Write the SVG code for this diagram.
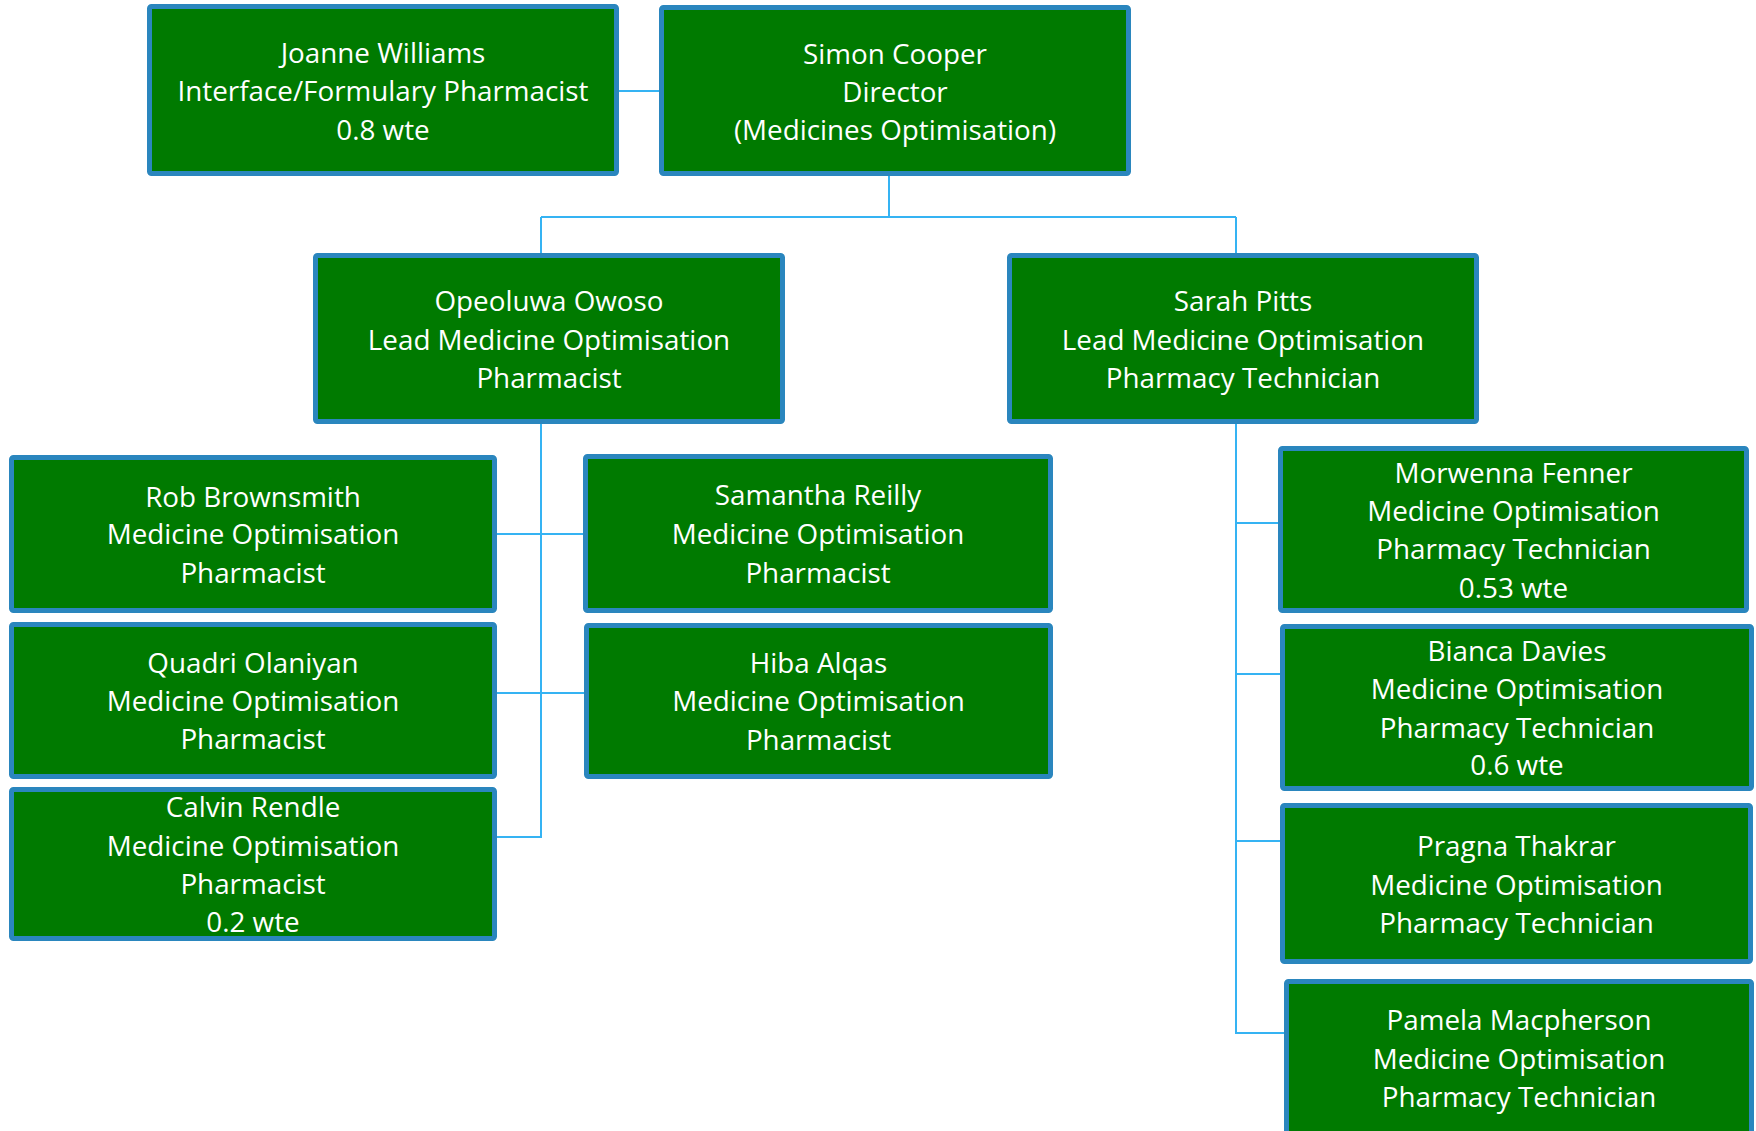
<svg xmlns="http://www.w3.org/2000/svg" width="1756" height="1131" viewBox="0 0 1756 1131">
<style>
.box{fill:#007A00;stroke:#2A86BE;stroke-width:5}
.t{font-family:"Open Sans","Liberation Sans",sans-serif;font-size:27.8px;fill:#FFFFFF;text-anchor:middle}
.c{fill:none;stroke:#35B3F3;stroke-width:2}
</style>
<rect width="1756" height="1131" fill="#FFFFFF"/>
<g id="connectors">
<path class="c" d="M619 91H659"/>
<path class="c" d="M889 176V217M541 217H1236M541 217V253M1236 217V253"/>
<path class="c" d="M541 424V837H497M497 534H583M497 693H584"/>
<path class="c" d="M1236 424V1033H1284M1236 523H1278M1236 674H1280M1236 841H1280"/>
</g>
<g id="joanne"><rect class="box" x="149.5" y="6.5" width="467" height="167" rx="2"/>
<text class="t" x="383" y="63">Joanne Williams</text><text class="t" x="383" y="101">Interface/Formulary Pharmacist</text><text class="t" x="383" y="140">0.8 wte</text></g>
<g id="simon"><rect class="box" x="661.5" y="7.5" width="467" height="166" rx="2"/>
<text class="t" x="895" y="64">Simon Cooper</text><text class="t" x="895" y="102">Director</text><text class="t" x="895" y="140">(Medicines Optimisation)</text></g>
<g id="opeoluwa"><rect class="box" x="315.5" y="255.5" width="467" height="166" rx="2"/>
<text class="t" x="549" y="311">Opeoluwa Owoso</text><text class="t" x="549" y="350">Lead Medicine Optimisation</text><text class="t" x="549" y="388">Pharmacist</text></g>
<g id="sarah"><rect class="box" x="1009.5" y="255.5" width="467" height="166" rx="2"/>
<text class="t" x="1243" y="311">Sarah Pitts</text><text class="t" x="1243" y="350">Lead Medicine Optimisation</text><text class="t" x="1243" y="388">Pharmacy Technician</text></g>
<g id="rob"><rect class="box" x="11.5" y="457.5" width="483" height="153" rx="2"/>
<text class="t" x="253" y="507">Rob Brownsmith</text><text class="t" x="253" y="544">Medicine Optimisation</text><text class="t" x="253" y="583">Pharmacist</text></g>
<g id="quadri"><rect class="box" x="11.5" y="624.5" width="483" height="152" rx="2"/>
<text class="t" x="253" y="673">Quadri Olaniyan</text><text class="t" x="253" y="711">Medicine Optimisation</text><text class="t" x="253" y="749">Pharmacist</text></g>
<g id="calvin"><rect class="box" x="11.5" y="789.5" width="483" height="149" rx="2"/>
<text class="t" x="253" y="817">Calvin Rendle</text><text class="t" x="253" y="856">Medicine Optimisation</text><text class="t" x="253" y="894">Pharmacist</text><text class="t" x="253" y="932">0.2 wte</text></g>
<g id="samantha"><rect class="box" x="585.5" y="456.5" width="465" height="154" rx="2"/>
<text class="t" x="818" y="505">Samantha Reilly</text><text class="t" x="818" y="544">Medicine Optimisation</text><text class="t" x="818" y="583">Pharmacist</text></g>
<g id="hiba"><rect class="box" x="586.5" y="625.5" width="464" height="151" rx="2"/>
<text class="t" x="818.5" y="673">Hiba Alqas</text><text class="t" x="818.5" y="711">Medicine Optimisation</text><text class="t" x="818.5" y="750">Pharmacist</text></g>
<g id="morwenna"><rect class="box" x="1280.5" y="448.5" width="466" height="162" rx="2"/>
<text class="t" x="1513.5" y="483">Morwenna Fenner</text><text class="t" x="1513.5" y="521">Medicine Optimisation</text><text class="t" x="1513.5" y="559">Pharmacy Technician</text><text class="t" x="1513.5" y="598">0.53 wte</text></g>
<g id="bianca"><rect class="box" x="1282.5" y="626.5" width="469" height="162" rx="2"/>
<text class="t" x="1517" y="661">Bianca Davies</text><text class="t" x="1517" y="699">Medicine Optimisation</text><text class="t" x="1517" y="738">Pharmacy Technician</text><text class="t" x="1517" y="775">0.6 wte</text></g>
<g id="pragna"><rect class="box" x="1282.5" y="805.5" width="468" height="156" rx="2"/>
<text class="t" x="1516.5" y="856">Pragna Thakrar</text><text class="t" x="1516.5" y="895">Medicine Optimisation</text><text class="t" x="1516.5" y="933">Pharmacy Technician</text></g>
<g id="pamela"><rect class="box" x="1286.5" y="981.5" width="465" height="170" rx="2"/>
<text class="t" x="1519" y="1030">Pamela Macpherson</text><text class="t" x="1519" y="1069">Medicine Optimisation</text><text class="t" x="1519" y="1107">Pharmacy Technician</text></g>
</svg>
